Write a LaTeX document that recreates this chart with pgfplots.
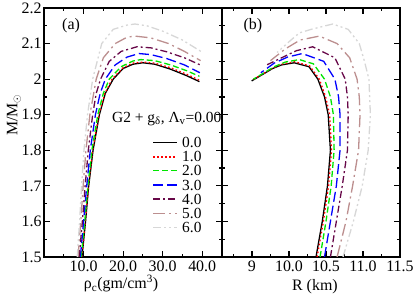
\documentclass[border=0pt]{standalone}
\usepackage{fontspec}
\setmainfont{Liberation Serif}
\usepackage{pgfplots}
\pgfplotsset{compat=1.18}
\definecolor{cgreen}{rgb}{0,0.9,0}
\definecolor{cblue}{rgb}{0,0,1}
\definecolor{cred}{rgb}{1,0,0}
\definecolor{cmaroon}{rgb}{0.404,0.027,0.282}
\definecolor{crosy}{rgb}{0.737,0.561,0.561}
\definecolor{cgray}{rgb}{0.843,0.843,0.843}
\tikzset{
  c0/.style={color=black, draw=black, line width=1.3pt, solid},
  c1/.style={color=cred, draw=cred, line width=1.3pt, dash pattern=on 1.6bp off 2.4bp},
  c2/.style={color=cgreen, draw=cgreen, line width=1.3pt, dash pattern=on 6bp off 3bp},
  c3/.style={color=cblue, draw=cblue, line width=1.3pt, dash pattern=on 10bp off 4bp},
  c4/.style={color=cmaroon, draw=cmaroon, line width=1.3pt, dash pattern=on 7bp off 3bp on 2bp off 3bp},
  c5/.style={color=crosy, draw=crosy, line width=1.3pt, dash pattern=on 12bp off 4bp on 2bp off 4bp},
  c6/.style={color=cgray, draw=cgray, line width=1.3pt, dash pattern=on 8bp off 3bp on 2bp off 3bp on 2bp off 3bp},
  lt/.style={anchor=west, inner sep=0pt, text=black, font=\fontsize{15.5}{15.5}\selectfont},
}
\pgfplotsset{
  panel/.style={
    scale only axis, width=178bp, height=249bp,
    ymin=1.5, ymax=2.2,
    ytick={1.5,1.6,1.7,1.8,1.9,2.0,2.1,2.2},
    minor ytick={1.55,1.65,1.75,1.85,1.95,2.05,2.15},
    tick align=inside, xtick pos=both, ytick pos=both,
    xticklabel pos=lower,
    axis line style={line width=1.6pt},
    major tick length=6bp, minor tick length=3bp,
    every tick/.style={black, line width=1.2pt},
    /pgf/number format/assume math mode=true,
    ticklabel style={font=\fontsize{16}{16}\selectfont},
    label style={font=\fontsize{16}{16}\selectfont},
  },
}
\begin{document}
\begin{tikzpicture}
\path[use as bounding box] (0,0) rectangle (415bp,294bp);
\begin{axis}[panel, at={(44bp,37bp)}, anchor=south west,
  xmin=0, xmax=45,
  xtick={10,20,30,40}, xticklabels={10.0,20.0,30.0,40.0},
  minor xtick={5,15,25,35},
  yticklabel pos=left,
  yticklabels={1.5,1.6,1.7,1.8,1.9,2,2.1,2.2},
  yticklabel style={xshift=1bp},
  xlabel={ρ\textsubscript{c}(gm/cm\textsuperscript{3})},
  xlabel style={at={(axis description cs:0.433,-0.108)}, anchor=center},
  ylabel={M/M$_\odot$},
  ylabel style={at={(axis description cs:-0.169,0.57)}, anchor=center, rotate=0},
]
\addplot[c0] coordinates {(9.6,1.5) (10.5,1.6) (11.3,1.7) (12.4,1.8) (14.0,1.9) (15.5,1.96) (17.5,2.0) (20,2.03) (22.5,2.042) (25,2.046) (28,2.042) (32,2.028) (36,2.01) (39.3,1.993)};
\addplot[c1] coordinates {(9.55,1.5) (10.45,1.6) (11.25,1.7) (12.3,1.8) (13.9,1.9) (15.4,1.96) (17.2,2.0) (20,2.032) (22.5,2.045) (25,2.048) (28,2.045) (32,2.032) (36,2.014) (39.3,1.997)};
\addplot[c2] coordinates {(9.4,1.5) (10.3,1.6) (11.1,1.7) (12.1,1.8) (13.6,1.9) (15.0,1.96) (16.5,2.0) (19.5,2.035) (22.5,2.051) (24.5,2.055) (28,2.052) (32,2.04) (36,2.024) (39.3,2.008)};
\addplot[c3] coordinates {(9.2,1.5) (10.0,1.6) (10.8,1.7) (11.7,1.8) (13.0,1.9) (14.2,1.96) (15.5,2.0) (18,2.04) (21,2.062) (24,2.072) (27,2.069) (31,2.058) (35.5,2.04) (39.4,2.018)};
\addplot[c4] coordinates {(8.9,1.5) (9.7,1.6) (10.4,1.7) (11.2,1.8) (12.3,1.9) (13.2,1.96) (14.3,2.0) (16.5,2.05) (19.5,2.078) (23.5,2.091) (27,2.088) (31,2.077) (35.5,2.06) (39.5,2.04)};
\addplot[c5] coordinates {(8.6,1.5) (9.3,1.6) (9.9,1.7) (10.6,1.8) (11.6,1.9) (13.2,2.0) (15,2.06) (18,2.1) (21,2.118) (23,2.121) (27,2.116) (31.5,2.1) (35.5,2.078) (39.6,2.052)};
\addplot[c6] coordinates {(8.4,1.5) (9.0,1.6) (9.5,1.7) (10.1,1.8) (11.0,1.9) (12.3,2.0) (14.6,2.1) (17.5,2.14) (21,2.152) (23,2.155) (26,2.15) (30,2.135) (35,2.11) (39.8,2.077)};
% legend keys, each in its own scope
\begin{scope}\draw[c2] (axis description cs:0.6124,0.346) -- (axis description cs:0.7472,0.346);\end{scope}
\begin{scope}\draw[c3] (axis description cs:0.6124,0.289) -- (axis description cs:0.7472,0.289);\end{scope}
\begin{scope}\draw[c4] (axis description cs:0.6124,0.233) -- (axis description cs:0.7472,0.233);\end{scope}
\begin{scope}\draw[c5] (axis description cs:0.6124,0.176) -- (axis description cs:0.7472,0.176);\end{scope}
\begin{scope}\draw[c6] (axis description cs:0.6124,0.119) -- (axis description cs:0.7472,0.119);\end{scope}
\begin{scope}\draw[c0] (axis description cs:0.6124,0.459) -- (axis description cs:0.7472,0.459);\end{scope}
\begin{scope}\draw[c1] (axis description cs:0.6124,0.402) -- (axis description cs:0.7472,0.402);\end{scope}
\node[lt] at (axis description cs:0.382,0.556) {G2 + g\textsubscript{δ}, Λ\textsubscript{v}=0.00};
\node[lt] at (axis description cs:0.7753,0.459) {0.0};
\node[lt] at (axis description cs:0.7753,0.402) {1.0};
\node[lt] at (axis description cs:0.7753,0.346) {2.0};
\node[lt] at (axis description cs:0.7753,0.289) {3.0};
\node[lt] at (axis description cs:0.7753,0.233) {4.0};
\node[lt] at (axis description cs:0.7753,0.176) {5.0};
\node[lt] at (axis description cs:0.7753,0.119) {6.0};
\node[font=\fontsize{16}{16}\selectfont, inner sep=0pt] at (axis description cs:0.152,0.928) {(a)};
\end{axis}
\begin{axis}[panel, at={(222bp,37bp)}, anchor=south west,
  xmin=9.095, xmax=11.5,
  xtick={9.5,10,10.5,11,11.5}, xticklabels={9,10.0,10.5,11.0,11.5},
  minor xtick={9.25,9.75,10.25,10.75,11.25},
  yticklabels={},
  xlabel={R (km)},
  xlabel style={at={(axis description cs:0.522,-0.12)}, anchor=center},
]
\addplot[c0] coordinates {(10.365,1.5) (10.45,1.6) (10.52,1.7) (10.56,1.8) (10.53,1.9) (10.48,1.95) (10.39,2.0) (10.27,2.035) (10.07,2.046) (9.9,2.04) (9.78,2.03) (9.495,1.995)};
\addplot[c1] coordinates {(10.38,1.5) (10.465,1.6) (10.535,1.7) (10.575,1.8) (10.55,1.9) (10.495,1.95) (10.41,2.0) (10.28,2.037) (10.08,2.049) (9.9,2.042) (9.78,2.031) (9.5,1.997)};
\addplot[c2] coordinates {(10.42,1.5) (10.5,1.6) (10.57,1.7) (10.61,1.8) (10.6,1.9) (10.56,1.95) (10.48,2.0) (10.33,2.043) (10.14,2.055) (9.95,2.048) (9.8,2.035) (9.52,2.0)};
\addplot[c3] coordinates {(10.48,1.5) (10.56,1.6) (10.64,1.7) (10.69,1.8) (10.69,1.9) (10.67,1.95) (10.62,2.0) (10.47,2.05) (10.18,2.072) (9.98,2.062) (9.8,2.045) (9.62,2.018)};
\addplot[c4] coordinates {(10.56,1.5) (10.64,1.6) (10.72,1.7) (10.79,1.8) (10.8,1.9) (10.79,1.95) (10.76,2.0) (10.62,2.06) (10.32,2.091) (10.1,2.08) (9.9,2.06) (9.7,2.04)};
\addplot[c5] coordinates {(10.65,1.5) (10.77,1.6) (10.86,1.7) (10.94,1.8) (10.96,1.9) (10.95,1.95) (10.92,2.0) (10.82,2.06) (10.65,2.1) (10.41,2.121) (10.15,2.11) (9.95,2.085) (9.75,2.052)};
\addplot[c6] coordinates {(10.73,1.5) (10.87,1.6) (10.99,1.7) (11.07,1.8) (11.1,1.9) (11.08,2.0) (11.02,2.05) (10.95,2.1) (10.8,2.14) (10.59,2.155) (10.3,2.14) (10.14,2.13) (10.0,2.105) (9.84,2.075)};
\node[font=\fontsize{16}{16}\selectfont, inner sep=0pt] at (axis description cs:0.174,0.928) {(b)};
\end{axis}
\end{tikzpicture}
\end{document}
